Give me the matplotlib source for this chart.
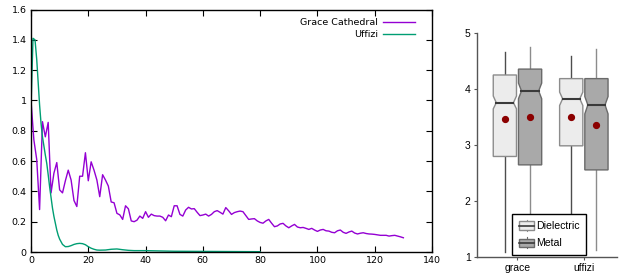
import numpy as np
import matplotlib
matplotlib.use("Agg")
import matplotlib.pyplot as plt
from matplotlib.patches import Polygon, Rectangle
from matplotlib.lines import Line2D
from matplotlib.legend_handler import HandlerBase
from matplotlib.ticker import FormatStrFormatter

# ---------------- data: left panel ----------------
grace_y = [1.0, 0.74, 0.61, 0.28, 0.86, 0.76, 0.855, 0.39, 0.52, 0.59,
           0.41, 0.39, 0.47, 0.54, 0.475, 0.34, 0.30, 0.50, 0.50, 0.655,
           0.47, 0.595, 0.54, 0.475, 0.365, 0.51, 0.475, 0.435, 0.33, 0.325,
           0.255, 0.245, 0.215, 0.305, 0.285, 0.205, 0.20, 0.21, 0.237, 0.222,
           0.266, 0.229, 0.25, 0.24, 0.237, 0.237, 0.229, 0.206, 0.244, 0.233,
           0.305, 0.305, 0.248, 0.237, 0.277, 0.295, 0.284, 0.286, 0.262, 0.24,
           0.244, 0.25, 0.237, 0.248, 0.266, 0.273, 0.262, 0.25, 0.293, 0.272,
           0.248, 0.26, 0.266, 0.27, 0.266, 0.24, 0.215, 0.218, 0.22, 0.205,
           0.195, 0.19, 0.205, 0.215, 0.19, 0.167, 0.172, 0.185, 0.189, 0.172,
           0.16, 0.172, 0.182, 0.165, 0.16, 0.162, 0.156, 0.149, 0.156, 0.145,
           0.136, 0.145, 0.149, 0.14, 0.138, 0.13, 0.127, 0.14, 0.145, 0.13,
           0.123, 0.132, 0.138, 0.125, 0.119, 0.124, 0.127, 0.122, 0.119, 0.118,
           0.116, 0.113, 0.11, 0.11, 0.11, 0.105, 0.108, 0.11, 0.105, 0.10,
           0.094]
grace_x = list(range(len(grace_y)))

uffizi_x = [0, 0.7, 1.4, 2, 2.5, 3, 3.5, 4, 4.5, 5, 5.5, 6, 6.5, 7, 7.5, 8,
            8.5, 9, 9.5, 10, 11, 12, 13, 14, 15, 16, 17, 18, 19, 20, 21, 22,
            23, 24, 26, 28, 30, 32, 34, 36, 40, 45, 50, 60, 70, 80]
uffizi_y = [0.95, 1.41, 1.40, 1.27, 1.12, 0.97, 0.85, 0.76, 0.70, 0.64, 0.585,
            0.51, 0.43, 0.36, 0.29, 0.235, 0.19, 0.145, 0.11, 0.085, 0.05,
            0.035, 0.036, 0.042, 0.05, 0.055, 0.057, 0.055, 0.048, 0.035,
            0.025, 0.018, 0.013, 0.012, 0.013, 0.018, 0.02, 0.015, 0.011,
            0.009, 0.009, 0.007, 0.005, 0.004, 0.003, 0.002]

# ---------------- data: right panel ----------------
venues = ["grace", "uffizi"]
materials = ["Dielectric", "Metal"]
# per venue, per material
wlo = [[1.08, 1.05], [1.05, 1.12]]
q1 = [[2.79, 2.64], [2.98, 2.55]]
med = [[3.75, 3.96], [3.82, 3.71]]
q3 = [[4.245, 4.35], [4.18, 4.18]]
whi = [[4.65, 4.75], [4.58, 4.71]]
ci_lo = [[3.64, 3.82], [3.70, 3.55]]
ci_hi = [[3.87, 4.10], [3.94, 3.86]]
means = [[3.45, 3.49], [3.50, 3.36]]

fig = plt.figure(figsize=(6.19, 2.75), dpi=100)

# ---------------- left panel ----------------
ax = fig.add_axes([31 / 619, 1 - 252 / 275, (432 - 31) / 619, (252 - 9.5) / 275])
ax.plot(grace_x, grace_y, color="#9400d3", lw=1.0, label="Grace Cathedral")
ax.plot(uffizi_x, uffizi_y, color="#009e73", lw=1.0, label="Uffizi")
ax.set_xlim(0, 140)
ax.set_ylim(0, 1.6)
ax.set_xticks(np.arange(0, 141, 20))
ax.set_yticks(np.arange(0, 1.61, 0.2))
ax.yaxis.set_major_formatter(FormatStrFormatter("%g"))
ax.tick_params(direction="in", length=4, width=0.8, top=True, right=True,
               labelsize=6.8, pad=3)
for s in ax.spines.values():
    s.set_linewidth(1.0)
leg = ax.legend(loc="upper right", frameon=False, markerfirst=False,
                fontsize=6.8, handlelength=3.4, handletextpad=0.6,
                labelspacing=0.35, borderaxespad=0.5, bbox_to_anchor=(0.98, 1.0))

# ---------------- right panel ----------------
ax2 = fig.add_axes([477 / 619, 1 - 256.7 / 275, (617 - 477) / 619, (256.7 - 32.7) / 275])
faces = ["#ececec", "#a9a9a9"]
edges = ["#8c8c8c", "#6a6a6a"]
wcols = ["#4d4d4d", "#8c8c8c"]
offs = [-0.19, 0.19]
bw = 0.35
indent = 0.13
for i, v in enumerate(venues):
    for j, m in enumerate(materials):
        c = i + offs[j]
        l, r = c - bw / 2, c + bw / 2
        d = bw * indent
        ax2.plot([c, c], [q3[i][j], whi[i][j]], color=wcols[j], lw=1.0, zorder=1)
        ax2.plot([c, c], [wlo[i][j], q1[i][j]], color=wcols[j], lw=1.0, zorder=1)
        verts = [(l, q1[i][j]), (r, q1[i][j]), (r, ci_lo[i][j]), (r - d, med[i][j]),
                 (r, ci_hi[i][j]), (r, q3[i][j]), (l, q3[i][j]), (l, ci_hi[i][j]),
                 (l + d, med[i][j]), (l, ci_lo[i][j])]
        ax2.add_patch(Polygon(verts, closed=True, facecolor=faces[j],
                              edgecolor=edges[j], lw=1.0, zorder=2))
        ax2.plot([l + d, r - d], [med[i][j], med[i][j]], color="#3a3a3a", lw=1.5, zorder=3)
        ax2.plot([c], [means[i][j]], "o", color="#8b0000", ms=4.2, zorder=4)

ax2.set_xlim(-0.61, 1.5)
ax2.set_ylim(1, 5)
ax2.set_yticks([1, 2, 3, 4, 5])
ax2.set_xticks(range(len(venues)))
ax2.set_xticklabels(venues)
for s in ["top", "right"]:
    ax2.spines[s].set_visible(False)
for s in ["left", "bottom"]:
    ax2.spines[s].set_color("#555555")
    ax2.spines[s].set_linewidth(1.0)
ax2.tick_params(direction="out", length=2.5, width=0.8, color="#555555",
                labelsize=7.5, pad=2)
for t in ax2.get_xticklabels() + ax2.get_yticklabels():
    t.set_fontfamily("Liberation Sans")


class BoxHandler(HandlerBase):
    def create_artists(self, legend, orig_handle, xdescent, ydescent, width,
                       height, fontsize, trans):
        fc, ec = orig_handle
        x0, y0 = -xdescent, -ydescent
        rect = Rectangle((x0, y0 + height * 0.05), width, height * 0.9,
                         facecolor=fc, edgecolor=ec, lw=1.0, transform=trans)
        mid = Line2D([x0, x0 + width], [y0 + height / 2] * 2, color="#3a3a3a",
                     lw=1.2, transform=trans)
        cx = x0 + width / 2
        w1 = Line2D([cx, cx], [y0 + height * 0.95, y0 + height * 1.1],
                    color=ec, lw=0.8, transform=trans)
        w2 = Line2D([cx, cx], [y0 - height * 0.1, y0 + height * 0.05],
                    color=ec, lw=0.8, transform=trans)
        return [w1, w2, rect, mid]


handles = [(faces[0], edges[0]), (faces[1], edges[1])]
hmap = {h: BoxHandler() for h in handles}
leg2 = ax2.legend(handles, materials, handler_map=hmap, loc="lower center",
                  bbox_to_anchor=(0.515, 0.0), fancybox=False, framealpha=1,
                  edgecolor="black", handlelength=1.45, handleheight=0.95,
                  handletextpad=0.15, borderpad=0.65, labelspacing=0.65,
                  borderaxespad=0.15,
                  prop={"family": "Liberation Sans", "size": 7.6})
leg2.get_frame().set_linewidth(1.0)
leg2.set_zorder(10)

fig.savefig("out.png", dpi=100)
